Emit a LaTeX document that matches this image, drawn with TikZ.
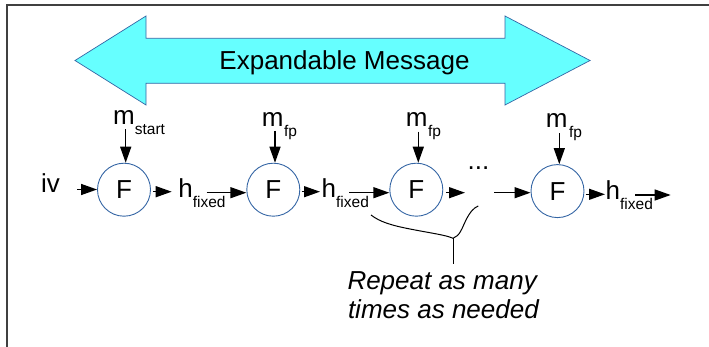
\documentclass[tikz,border=0pt]{standalone}
\usepackage{fontspec}
\setmainfont{Liberation Sans}
\usetikzlibrary{arrows.meta}
\definecolor{cyanfill}{RGB}{102,255,255}
\definecolor{edgeblue}{RGB}{52,101,164}
\newcommand{\mainf}{\fontsize{26}{30}\selectfont}
\newcommand{\subf}{\fontsize{15.5}{18}\selectfont}
\newcommand{\lbl}[3]{#1\kern#3pt\raisebox{-10pt}{\subf #2}}
\begin{document}
\begin{tikzpicture}[x=1pt,y=-1pt,
  arr/.style={line width=1.3pt,-{Triangle[length=16pt,width=11pt]}},
  fcirc/.style={circle,draw=edgeblue,line width=0.9pt,minimum size=53pt,inner sep=0pt,font=\mainf},
  txt/.style={anchor=base west,inner sep=0pt,font=\mainf},
  frame/.style={line width=2pt,black!75},
  bigarrow/.style={fill=cyanfill,draw=edgeblue,line width=0.7pt,line join=miter}]
\useasboundingbox (0,0) rectangle (709,347);
% frame (only top and left edges visible)
\draw[frame] (6.5,347) -- (6.5,5.5) -- (709,5.5);
% double arrow
\draw[bigarrow] (75,60.5) -- (146,16) -- (146,38.3) -- (505,38.3) -- (505,16)
  -- (590,60.5) -- (505,105) -- (505,83.3) -- (146,83.3) -- (146,105) -- cycle;
\node[anchor=base,inner sep=0pt,font=\mainf] (msg) at (344.5,70) {Expandable Message};
% F circles
\node[fcirc] (F1) at (124,189.7) {F};
\node[fcirc] (F2) at (273.3,189.7) {F};
\node[fcirc] (F3) at (416.3,189.7) {F};
\node[fcirc] (F4) at (557.5,191.1) {F};
% labels
\node[txt] (iv) at (41,193) {iv};
\node[txt] (h1) at (178.2,197.3) {\lbl{h}{fixed}{0}};
\node[txt] (h2) at (321.5,197.3) {\lbl{h}{fixed}{0}};
\node[txt] (h4) at (605.5,199.5) {\lbl{h}{fixed}{0}};
\node[txt] (m1) at (113,125) {\lbl{m}{start}{0}};
\node[txt] (m2) at (261.6,126.3) {\lbl{m}{fp}{0.7}};
\node[txt] (m3) at (405.6,126.3) {\lbl{m}{fp}{0.7}};
\node[txt] (m4) at (545.6,127.3) {\lbl{m}{fp}{1.7}};
\node[txt] (dots) at (467.5,169.5) {...};
% vertical arrows
\coordinate (v1) at (125.7,129.3);
\coordinate (v2) at (275,131);
\coordinate (v3) at (418.3,131.7);
\coordinate (v4) at (559.3,133.3);
\draw[arr] (v1) -- (v1 |- F1.north);
\draw[arr] (v2) -- (v2 |- F2.north);
\draw[arr] (v3) -- (v3 |- F3.north);
\draw[arr] (v4) -- (v4 |- F4.north);
% horizontal arrows
\coordinate (a1) at (77,189.5);
\draw[arr] (a1) -- (a1 -| F1.west);
\coordinate (a2s) at (153,191.7); \coordinate (a2e) at (171.7,191.7);
\draw[arr] (a2s) -- (a2e);
\coordinate (a3) at (206.7,192.7);
\draw[arr] (a3) -- (a3 -| F2.west);
\coordinate (a4s) at (301.7,191.7); \coordinate (a4e) at (320,191.7);
\draw[arr] (a4s) -- (a4e);
\coordinate (a5) at (349,192.7);
\draw[arr] (a5) -- (a5 -| F3.west);
\coordinate (a6s) at (446,192.7); \coordinate (a6e) at (465,192.7);
\draw[arr] (a6s) -- (a6e);
\coordinate (a7) at (494,192.7);
\draw[arr] (a7) -- (a7 -| F4.west);
\coordinate (a8s) at (585.7,194.3); \coordinate (a8e) at (605,194.3);
\draw[arr] (a8s) -- (a8e);
\coordinate (a9s) at (635,195); \coordinate (a9e) at (670.7,195);
\draw[arr] (a9s) -- (a9e);
% brace
\coordinate (bl) at (371,215);
\coordinate (bm) at (453,238.3);
\coordinate (br) at (478.3,206);
\coordinate (bt) at (453,264);
\draw[line width=1pt] (bl) .. controls (380,222) and (392,225.5) .. (410,229)
  .. controls (430,233) and (446,235) .. (bm)
  .. controls (460,236) and (462,228) .. (466,220)
  .. controls (470,212) and (474,207.5) .. (br);
\draw[line width=1pt] (bm) -- (bt);
% note
\node[txt,font=\mainf\itshape] (n1) at (347.3,289.3) {Repeat as many};
\node[txt,font=\mainf\itshape] (n2) at (347.8,318.3) {times as needed};
\end{tikzpicture}
\end{document}
